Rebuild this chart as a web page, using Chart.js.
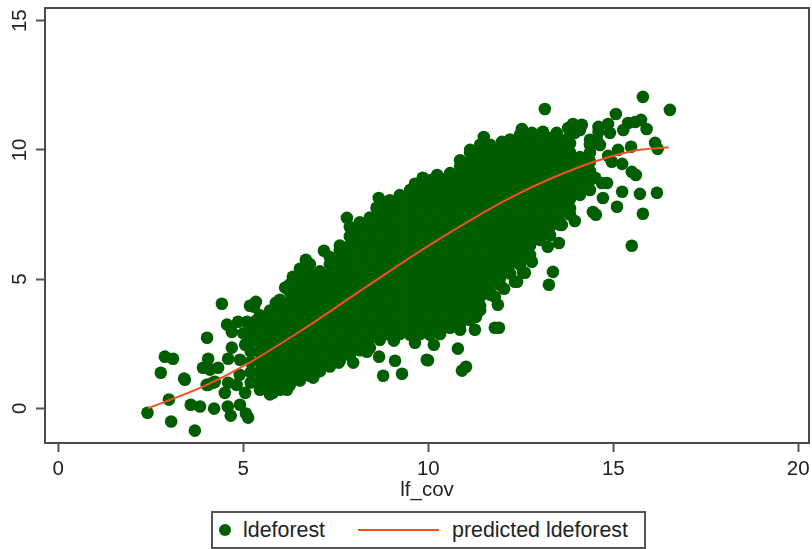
<!DOCTYPE html>
<html>
<head>
<meta charset="utf-8">
<title>ldeforest vs lf_cov</title>
<script src="https://cdn.jsdelivr.net/npm/chart.js@4"></script>
<style>
  html, body { margin: 0; padding: 0; background: #fff; }
  #wrap { position: relative; width: 812px; height: 549px; overflow: hidden; font-family: "Liberation Sans", Arial, sans-serif; color: #222; }
  #legend { position: absolute; left: 211px; top: 511px; width: 431px; height: 34px; border: 2px solid #555; background: #fff; font-size: 21.4px; }
  #legend span { position: absolute; top: 3px; line-height: 28px; white-space: nowrap; }
  #legend i { position: absolute; display: block; }
  #dot { left: 6px; top: 11px; width: 12px; height: 12px; border-radius: 50%; background: #005e00; }
  #dash { left: 145px; top: 16px; width: 81px; height: 2px; background: #f4511e; }
</style>
</head>
<body>
<div id="wrap">
  <canvas id="ctx" width="812" height="549"></canvas>
  <div id="legend">
    <i id="dot"></i><span style="left:30px">ldeforest</span>
    <i id="dash"></i><span style="left:239px">predicted ldeforest</span>
  </div>
</div>
<script>
const xTicks = [0, 5, 10, 15, 20];
const yTicks = [0, 5, 10, 15];
const xTitle = 'lf_cov';
const seriesNames = ['ldeforest', 'predicted ldeforest'];

// fitted line
const fitX = [2.42, 4.0, 5.26, 6.61, 8.24, 10.13, 12.29, 14.1, 15.5, 16.5];
const fitY = [0.0, 0.9, 1.85, 3.05, 4.62, 6.4, 8.2, 9.35, 9.95, 10.1];

// points that can be told apart: lower left
const edgeLow = [[2.41,-.17],[2.99,.34],[3.05,-.51],[3.69,-.86],[3.58,.14],[3.83,.07],[4.21,-.01],[4.58,.07],[4.91,.14],[4.66,-.28],[5.07,-.2],[5.13,-.36],
  [3.42,1.11],[4.01,.91],[4.18,.99],[4.5,.6],[5.05,.6],[2.88,2.0],[3.10,1.92],[2.77,1.38],[3.40,1.15],[4.42,4.05],[4.02,2.73],[5.18,3.97],[5.34,4.12],[5.29,3.93],
  [5.88,4.08],[6.13,4.67],[6.34,5.09],[4.56,3.24],[4.69,2.96],[4.86,3.35],[5.1,3.35],[4.05,1.92],[3.91,1.57],[4.1,1.5],[4.32,1.57],[4.59,1.92],[4.91,1.88],
  [4.69,2.35],[5.05,2.46],[4.05,.91],[4.23,1.03],[4.59,.99],[4.82,.91],[5.2,1.0],[5.2,1.4],[5.2,1.8],[5.2,2.2],[5.2,2.6],[5.2,3.0],[4.9,1.3],[5.0,2.9],[5.35,3.4]];

// points below the main cloud
const edgeUnder = [[8.67,2.0],[9.1,1.84],[8.78,1.26],[9.29,1.34],[9.96,1.88],[9.99,1.86],[8.34,2.19],[7.97,1.77],[7.58,1.77],[6.89,1.19],[6.18,.72],[5.8,.6],
  [10.8,2.31],[11.02,1.61],[10.91,1.46],[10.15,2.46],[9.64,2.54],[9.07,2.62],[11.26,3.04],[11.8,3.12],[11.91,3.12],[11.29,3.54],[10.86,3.04],[11.88,4.01],[11.8,4.32],
  [12.05,4.63],[12.4,4.9],[12.61,5.25],[12.8,5.67],[13.26,4.78],[13.37,5.28],[12.56,5.25],[12.34,4.9]];

// points above the main cloud and out to the right
const edgeHigh = [[7.18,6.1],[6.69,5.75],[7.8,7.37],[8.66,8.14],[8.6,7.76],[9.85,8.92],[9.64,8.69],[10.24,9.03],
  [15.8,12.05],[16.53,11.55],[13.15,11.58],[15.07,11.39],[15.75,11.16],[15.59,11.08],[15.4,11.04],[15.9,10.81],[15.27,10.77],[14.91,10.66],[14.86,11.0],[14.6,10.89],[14.6,10.7],
  [14.15,10.97],[13.91,11.0],[13.78,10.85],[13.96,10.66],[13.47,10.66],[12.53,10.81],[12.8,10.66],[13.1,10.7],[11.99,10.31],[11.5,10.5],[16.13,10.27],[16.2,10.04],[15.48,10.12],
  [15.13,10.0],[14.86,9.77],[14.64,10.19],[14.37,10.39],[14.56,10.39],[14.31,9.23],[14.96,9.54],[15.24,9.46],[15.5,9.15],[15.61,9.03],[14.69,8.72],[14.51,8.92],[14.83,8.72],
  [15.24,8.38],[15.72,8.3],[16.18,8.34],[14.72,8.14],[15.1,7.8],[15.8,7.53],[14.45,7.6],[14.53,7.49],[15.5,6.29],[13.96,7.25],[13.61,7.1],[13.53,6.4],[13.23,6.25]];

// the solid part of the cloud, single points cannot be read there: [lf_cov, [ldeforest...]]
const cloud = [
  [5.45,[.72,1.08,1.44,1.8,2.16,2.52,2.88,3.24,3.6]],
  [5.72,[.54,.9,1.26,1.62,1.98,2.34,2.7,3.06,3.42,3.78]],
  [5.99,[.72,1.08,1.44,1.8,2.16,2.52,2.88,3.24,3.6,3.96,4.2]],
  [6.26,[.9,1.26,1.62,1.98,2.34,2.7,3.06,3.42,3.78,4.14,4.5,4.8]],
  [6.53,[1.08,1.44,1.8,2.16,2.52,2.88,3.24,3.6,3.96,4.32,4.68,5.04,5.4]],
  [6.80,[1.26,1.62,1.98,2.34,2.7,3.06,3.42,3.78,4.14,4.5,4.86,5.22,5.58]],
  [7.07,[1.44,1.8,2.16,2.52,2.88,3.24,3.6,3.96,4.32,4.68,5.04,5.3]],
  [7.34,[1.62,1.98,2.34,2.7,3.06,3.42,3.78,4.14,4.5,4.86,5.22,5.58,5.85]],
  [7.61,[1.85,2.16,2.52,2.88,3.24,3.6,3.96,4.32,4.68,5.04,5.4,5.76,6.12,6.3]],
  [7.88,[2.05,2.34,2.7,3.06,3.42,3.78,4.14,4.5,4.86,5.22,5.58,5.94,6.3,6.66,7.02]],
  [8.15,[2.25,2.52,2.88,3.24,3.6,3.96,4.32,4.68,5.04,5.4,5.76,6.12,6.48,6.84,7.2]],
  [8.42,[2.34,2.7,3.06,3.42,3.78,4.14,4.5,4.86,5.22,5.58,5.94,6.3,6.66,7.02,7.38]],
  [8.69,[2.65,2.88,3.24,3.6,3.96,4.32,4.68,5.04,5.4,5.76,6.12,6.48,6.84,7.2,7.56,7.85]],
  [8.96,[2.85,3.06,3.42,3.78,4.14,4.5,4.86,5.22,5.58,5.94,6.3,6.66,7.02,7.38,7.74,8.05]],
  [9.23,[2.88,3.24,3.6,3.96,4.32,4.68,5.04,5.4,5.76,6.12,6.48,6.84,7.2,7.56,7.92,8.25]],
  [9.51,[2.85,3.06,3.42,3.78,4.14,4.5,4.86,5.22,5.58,5.94,6.3,6.66,7.02,7.38,7.74,8.1,8.45]],
  [9.78,[2.88,3.24,3.6,3.96,4.32,4.68,5.04,5.4,5.76,6.12,6.48,6.84,7.2,7.56,7.92,8.28,8.64]],
  [10.05,[2.85,3.06,3.42,3.78,4.14,4.5,4.86,5.22,5.58,5.94,6.3,6.66,7.02,7.38,7.74,8.1,8.46,8.82]],
  [10.32,[2.88,3.24,3.6,3.96,4.32,4.68,5.04,5.4,5.76,6.12,6.48,6.84,7.2,7.56,7.92,8.28,8.64,8.9]],
  [10.59,[3.12,3.42,3.78,4.14,4.5,4.86,5.22,5.58,5.94,6.3,6.66,7.02,7.38,7.74,8.1,8.46,8.82,9.1]],
  [10.86,[3.24,3.6,3.96,4.32,4.68,5.04,5.4,5.76,6.12,6.48,6.84,7.2,7.56,7.92,8.28,8.64,9.0,9.36,9.6]],
  [11.13,[3.42,3.78,4.14,4.5,4.86,5.22,5.58,5.94,6.3,6.66,7.02,7.38,7.74,8.1,8.46,8.82,9.18,9.54,9.9,10.0]],
  [11.40,[3.8,3.96,4.32,4.68,5.04,5.4,5.76,6.12,6.48,6.84,7.2,7.56,7.92,8.28,8.64,9.0,9.36,9.72,10.08,10.2]],
  [11.67,[4.4,4.5,4.86,5.22,5.58,5.94,6.3,6.66,7.02,7.38,7.74,8.1,8.46,8.82,9.18,9.54,9.9,10.2]],
  [11.94,[4.78,5.04,5.4,5.76,6.12,6.48,6.84,7.2,7.56,7.92,8.28,8.64,9.0,9.36,9.72,10.08]],
  [12.21,[5.22,5.58,5.94,6.3,6.66,7.02,7.38,7.74,8.1,8.46,8.82,9.18,9.54,9.9,10.26,10.4]],
  [12.48,[5.55,5.76,6.12,6.48,6.84,7.2,7.56,7.92,8.28,8.64,9.0,9.36,9.72,10.08,10.44,10.6]],
  [12.75,[5.94,6.3,6.66,7.02,7.38,7.74,8.1,8.46,8.82,9.18,9.54,9.9,10.26,10.46]],
  [13.02,[6.52,6.84,7.2,7.56,7.92,8.28,8.64,9.0,9.36,9.72,10.08,10.44,10.6]],
  [13.29,[6.7,7.02,7.38,7.74,8.1,8.46,8.82,9.18,9.54,9.9,10.26,10.46]],
  [13.56,[7.1,7.2,7.56,7.92,8.28,8.64,9.0,9.36,9.72,10.08,10.4]],
  [13.83,[7.5,7.74,8.1,8.46,8.82,9.18,9.54,9.9,10.26,10.58]],
  [14.10,[8.26,8.64,9.0,9.36,9.72,10.77]],
  [14.37,[8.45,8.82,9.18,9.54,9.9,10.19]]
];

const points = edgeLow.concat(edgeUnder, edgeHigh, cloud.flatMap(c => c[1].map(y => [c[0], y])));

const plotBox = {
  id: 'plotBox',
  afterDatasetsDraw(chart) {
    const a = chart.chartArea;
    const c = chart.ctx;
    c.save();
    c.strokeStyle = '#4a4a4a';
    c.lineWidth = 2;
    c.strokeRect(a.left, a.top, a.right - a.left, a.bottom - a.top);
    c.restore();
  }
};

const tickFont = { family: '"Liberation Sans", Arial, sans-serif', size: 20.5 };

new Chart(document.getElementById('ctx').getContext('2d'), {
  type: 'scatter',
  data: {
    datasets: [{
      label: seriesNames[1],
      data: fitX.map((x, i) => ({ x: x, y: fitY[i] })),
      showLine: true,
      borderColor: '#f4511e',
      borderWidth: 2,
      pointRadius: 0,
      cubicInterpolationMode: 'monotone',
      order: 0
    }, {
      label: seriesNames[0],
      data: points.map(p => ({ x: p[0], y: p[1] })),
      backgroundColor: '#005e00',
      borderWidth: 0,
      pointRadius: 6.3,
      order: 1
    }]
  },
  plugins: [plotBox],
  options: {
    responsive: false,
    animation: false,
    layout: { autoPadding: false, padding: { top: 8, right: 3, bottom: 46, left: 0 } },
    scales: {
      x: {
        type: 'linear',
        min: -0.36,
        max: 20.29,
        afterBuildTicks: s => { s.ticks = xTicks.map(v => ({ value: v })); },
        afterFit: s => { s.height = 60; s.paddingRight = 0; s.paddingLeft = 0; },
        grid: { drawOnChartArea: false, tickLength: 9, tickColor: '#555', tickWidth: 2 },
        border: { display: false },
        ticks: { color: '#222', font: tickFont, padding: 5, maxRotation: 0, autoSkip: false },
        title: { display: true, text: xTitle, color: '#222', font: tickFont, padding: 0 }
      },
      y: {
        type: 'linear',
        min: -1.34,
        max: 15.49,
        afterBuildTicks: s => { s.ticks = yTicks.map(v => ({ value: v })); },
        afterFit: s => { s.width = 45; s.paddingTop = 0; s.paddingBottom = 0; },
        grid: { drawOnChartArea: false, tickLength: 9, tickColor: '#555', tickWidth: 2 },
        border: { display: false },
        ticks: { color: '#222', font: tickFont, padding: 4.5, minRotation: 90, maxRotation: 90, autoSkip: false, crossAlign: 'center' }
      }
    },
    plugins: { legend: { display: false } }
  }
});
</script>
</body>
</html>
